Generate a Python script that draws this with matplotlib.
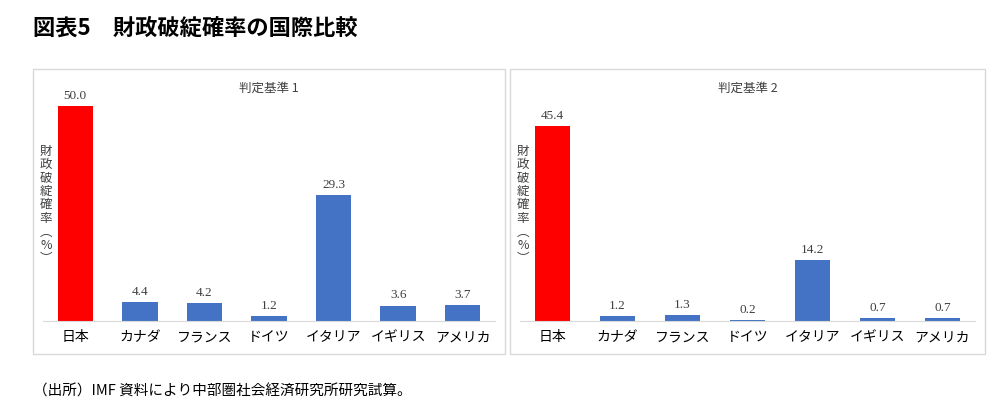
import matplotlib
matplotlib.use("Agg")
import matplotlib.pyplot as plt
from matplotlib.patches import Rectangle

plt.rcParams['font.family'] = ['Noto Sans CJK JP', 'DejaVu Sans']

countries = ["日本", "カナダ", "フランス", "ドイツ", "イタリア", "イギリス", "アメリカ"]
vals1 = [50.0, 4.4, 4.2, 1.2, 29.3, 3.6, 3.7]
vals2 = [45.4, 1.2, 1.3, 0.2, 14.2, 0.7, 0.7]
titles = ["判定基準 1", "判定基準 2"]
title = "図表5　財政破綻確率の国際比較"
source = "（出所）IMF 資料により中部圏社会経済研究所研究試算。"
ylabel = "財政破綻確率︵%︶"

W, H = 1000, 410
fig = plt.figure(figsize=(W/100, H/100), dpi=100)

def fx(x): return x / W
def fy(y): return 1 - y / H

fig.text(fx(33), fy(28), title, fontsize=16, fontweight='bold', va='center', ha='left')
fig.text(fx(33), fy(392), source, fontsize=10.5, va='center', ha='left')

panels = [(33, 505, vals1, titles[0]), (510, 985, vals2, titles[1])]
for (x0, x1, vals, t) in panels:
    fig.patches.append(Rectangle((fx(x0), fy(355)), fx(x1 - x0), (355 - 70) / H,
                                 transform=fig.transFigure, fill=False,
                                 edgecolor='#d9d9d9', linewidth=1))
    fig.text(fx((x0 + x1) / 2), fy(88), t, fontsize=9, ha='center', va='center', color='#404040')
    fig.text(fx(x0 + 13), fy(205), "\n".join(ylabel), fontsize=9, ha='center', va='center',
             color='#404040', linespacing=1.05)
    ax = fig.add_axes([fx(x0 + 10), fy(322), fx(x1 - x0 - 20), (322 - 86) / H])
    ax.set_xlim(-0.5, len(countries) - 0.5)
    ax.set_ylim(0, 55)
    colors = ['#FF0000'] + ['#4472C4'] * (len(countries) - 1)
    ax.bar(range(len(countries)), vals, width=0.55, color=colors)
    for i, v in enumerate(vals):
        ax.text(i, v + 1.2, f"{v:.1f}", ha='center', va='bottom', fontsize=9.5,
                family='Liberation Serif', color='#404040')
    ax.set_xticks(range(len(countries)))
    ax.set_xticklabels(countries, fontsize=10)
    ax.tick_params(axis='x', length=0, pad=6)
    ax.set_yticks([])
    for s in ['top', 'right', 'left']:
        ax.spines[s].set_visible(False)
    ax.spines['bottom'].set_color('#d9d9d9')
    ax.patch.set_alpha(0)

fig.savefig("out.png", dpi=100)
